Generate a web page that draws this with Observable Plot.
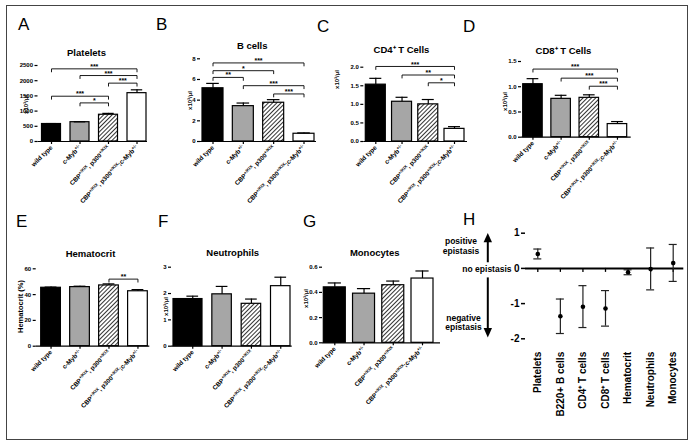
<!DOCTYPE html>
<html>
<head>
<meta charset="utf-8">
<script src="https://cdn.jsdelivr.net/npm/d3@7"></script>
<script src="https://cdn.jsdelivr.net/npm/@observablehq/plot@0.6"></script>
<style>
  body { margin: 0; background: #fff; }
  #fig { position: relative; width: 696px; height: 447px; font-family: "Liberation Sans", Arial, Helvetica, sans-serif; overflow: hidden; }
  #fig > svg { position: absolute; left: 0; top: 0; }
  .border { position: absolute; left: 6px; top: 5px; width: 682px; height: 435px; border: 1.2px solid #444; box-sizing: border-box; }
  .letter { position: absolute; font-size: 17px; line-height: 17px; color: #000; }
</style>
</head>
<body>
<div id="fig">
  <svg width="0" height="0" style="position:absolute">
    <defs>
      <pattern id="hatch" patternUnits="userSpaceOnUse" width="3" height="3" patternTransform="rotate(45)">
        <rect width="3" height="3" fill="#fff"></rect>
        <line x1="1.5" y1="0" x2="1.5" y2="3" stroke="#333" stroke-width="1"></line>
      </pattern>
    </defs>
  </svg>
  <div class="border"></div>
</div>
<script>
// ---------------- data ----------------
const genotypes = ["wild type", "c-Myb+/-", "CBP+/KIX, p300+/KIX", "CBP+/KIX, p300+/KIX;c-Myb+/-"];
const genotypeFills = ["#000000", "#a6a6a6", "url(#hatch)", "#ffffff"];

const plateletMean = [575, 635, 880, 1590];
const plateletErr = [15, 12, 45, 110];
const plateletSig = [[0, 3, 2390, "***"], [1, 3, 2170, "***"], [2, 3, 1920, "***"], [0, 2, 1490, "***"], [1, 2, 1270, "*"]];

const bCellMean = [5.15, 3.42, 3.75, 0.75];
const bCellErr = [0.47, 0.3, 0.3, 0.08];
const bCellSig = [[0, 3, 7.6, "***"], [0, 2, 6.85, "*"], [0, 1, 6.2, "**"], [1, 3, 5.4, "***"], [2, 3, 4.6, "***"]];

const cd4Mean = [1.53, 1.07, 1.0, 0.34];
const cd4Err = [0.17, 0.12, 0.13, 0.06];
const cd4Sig = [[0, 3, 2.02, "***"], [1, 3, 1.79, "**"], [2, 3, 1.58, "*"]];

const cd8Mean = [1.05, 0.76, 0.78, 0.26];
const cd8Err = [0.11, 0.07, 0.06, 0.05];
const cd8Sig = [[0, 3, 1.35, "***"], [1, 3, 1.17, "***"], [2, 3, 1.01, "***"]];

const hctMean = [45.3, 45.8, 47.1, 42.6];
const hctErr = [0.5, 0.7, 1.2, 1.3];
const hctSig = [[2, 3, 52, "**"]];

const neutroMean = [1.79, 1.97, 1.61, 2.28];
const neutroErr = [0.11, 0.3, 0.18, 0.34];

const monoMean = [0.44, 0.39, 0.457, 0.51];
const monoErr = [0.035, 0.04, 0.033, 0.06];

const epiCells = ["Platelets", "B220+ B cells", "CD4\u207A T cells", "CD8\u207A T cells", "Hematocrit", "Neutrophils", "Monocytes"];
const epiScore = [0.41, -1.36, -1.09, -1.14, -0.11, -0.02, 0.15];
const epiLow = [0.27, -1.85, -1.68, -1.64, -0.18, -0.61, -0.37];
const epiHigh = [0.55, -0.87, -0.49, -0.63, -0.04, 0.58, 0.68];
const epiArrowShafts = [{from: 0.16, to: 0.8}, {from: -0.27, to: -1.75}];
const epiArrowHeads = [{y: 0.875, dir: "up"}, {y: -1.83, dir: "down"}];
const epiNotes = [
  {text: "positive\nepistasis", y: 0.64, cx: 460.5, anchor: "middle"},
  {text: "no epistasis", y: 0, cx: 511, anchor: "end"},
  {text: "negative\nepistasis", y: -1.53, cx: 463, anchor: "middle"}
];

// ---------------- helpers ----------------
const FONT = '"Liberation Sans", Arial, Helvetica, sans-serif';
const W = 696, H = 447;
const fig = document.getElementById("fig");
const SVGNS = "http://www.w3.org/2000/svg";

function bandX(domain, x0, x1, gapL, gapR, bw) {
  const n = domain.length;
  const step = ((x1 - x0) - gapL - gapR - bw) / (n - 1);
  return {
    step,
    scale: {type: "band", domain, round: false, paddingInner: 1 - bw / step,
            paddingOuter: (gapL + gapR) / 2 / step, align: gapL / (gapL + gapR), axis: null}
  };
}

function superscriptify(svg, supSize, shift) {
  svg.querySelectorAll("text").forEach(t => {
    if (t.children.length) return;
    const s = t.textContent;
    if (!/\+\/(KIX|-)/.test(s)) return;
    const parts = s.split(/(\+\/(?:KIX|-))/).filter(p => p);
    t.textContent = "";
    let raised = false;
    for (const p of parts) {
      const ts = document.createElementNS(SVGNS, "tspan");
      if (/^\+\/(KIX|-)$/.test(p)) {
        ts.setAttribute("font-size", supSize);
        if (!raised) ts.setAttribute("dy", -shift);
        raised = true;
      } else {
        if (raised) ts.setAttribute("dy", shift);
        raised = false;
      }
      ts.textContent = p;
      t.appendChild(ts);
    }
  });
}

function place(svg) {
  fig.appendChild(svg);
}

function barPanel(p) {
  const {mean, err, sig = [], yDomain, yTicks, yFormat, frame: [x0, x1, yTop, yBot],
         gapL, gapR, bw, title, titleAt, yLabel, yLabelAt, yLabelSize = 6, firstBarWiden = 0} = p;
  const rows = genotypes.map((g, i) => ({g, i, v: mean[i], top: mean[i] + err[i], fill: genotypeFills[i]}));
  const {step, scale} = bandX(genotypes, x0, x1, gapL, gapR, bw);
  const pxPerUnit = (yBot - yTop) / (yDomain[1] - yDomain[0]);
  const hook = 3 / pxPerUnit;
  const bracketPts = sig.flatMap(([a, b, y], k) => [
    {k, g: genotypes[a], y: y - hook}, {k, g: genotypes[a], y},
    {k, g: genotypes[b], y}, {k, g: genotypes[b], y: y - hook}
  ]);
  const stars = sig.map(s => Plot.text([s], {
    x: d => genotypes[d[0]], y: d => d[2], text: d => d[3],
    dx: (s[1] - s[0]) * step / 2, dy: -2.2, fontSize: 7, fontWeight: "bold", lineAnchor: "middle"
  }));
  const cap = bw * 0.2;
  const barStyle = {x: "g", y: "v", fill: "fill", stroke: "#000", strokeWidth: 1.2};
  const bars = firstBarWiden
    ? [Plot.barY(rows.filter(d => d.i === 0), {...barStyle, insetLeft: -firstBarWiden}),
       Plot.barY(rows.filter(d => d.i !== 0), barStyle)]
    : [Plot.barY(rows, barStyle)];
  const svg = Plot.plot({
    width: W, height: H,
    marginLeft: x0, marginRight: W - x1, marginTop: yTop, marginBottom: H - yBot,
    style: {background: "transparent", fontFamily: FONT, overflow: "visible"},
    x: scale,
    y: {domain: yDomain, axis: null},
    color: {type: "identity"},
    marks: [
      ...bars,
      Plot.ruleX(rows, {x: "g", y1: "v", y2: "top", stroke: "#000", strokeWidth: 1.2}),
      Plot.tickY(rows, {x: "g", y: "top", stroke: "#000", strokeWidth: 1.2, insetLeft: cap, insetRight: cap}),
      Plot.line(bracketPts, {x: "g", y: "y", z: "k", stroke: "#000", strokeWidth: 0.9}),
      ...stars,
      Plot.ruleY([yDomain[0]], {stroke: "#000", strokeWidth: 1.2}),
      Plot.axisX({label: null, tickSize: 3, tickPadding: 2, tickRotate: -45, fontSize: 6.3, fontWeight: "bold", strokeWidth: 1.2}),
      Plot.axisY({label: null, ticks: yTicks, tickFormat: yFormat, tickSize: 3, tickPadding: 2, line: true,
                  fontSize: 6, fontWeight: "bold", strokeWidth: 1.2}),
      Plot.text([title], {text: d => d, frameAnchor: "top", dx: titleAt[0] - (x0 + x1) / 2, dy: titleAt[1] - yTop,
                          fontSize: 9.5, fontWeight: "bold", lineAnchor: "middle"}),
      Plot.text([yLabel], {text: d => d, frameAnchor: "left", rotate: -90, textAnchor: "middle", lineAnchor: "middle",
                           dx: yLabelAt[0] - x0, dy: yLabelAt[1] - (yTop + yBot) / 2,
                           fontSize: yLabelSize, fontWeight: "bold"})
    ]
  });
  superscriptify(svg, 4.4, 2.3);
  place(svg);
}

const fmtInt = d => String(d);
const fmt1 = d => d.toFixed(1);
const perUl = "x10\u00B3/\u00B5l";

barPanel({mean: plateletMean, err: plateletErr, sig: plateletSig, yDomain: [0, 2500], yTicks: [0, 500, 1000, 1500, 2000, 2500],
  yFormat: fmtInt, frame: [37.5, 147, 65, 141], gapL: 4, gapR: 1, bw: 19,
  title: "Platelets", titleAt: [86, 52], yLabel: perUl, yLabelAt: [26, 104]});

barPanel({mean: bCellMean, err: bCellErr, sig: bCellSig, yDomain: [0, 8], yTicks: [0, 2, 4, 6, 8],
  yFormat: fmtInt, frame: [200, 316, 58.3, 141], gapL: 2, gapR: 2, bw: 21,
  title: "B cells", titleAt: [251.7, 45.5], yLabel: perUl, yLabelAt: [190, 100]});

barPanel({mean: cd4Mean, err: cd4Err, sig: cd4Sig, yDomain: [0, 2], yTicks: [0, 0.5, 1, 1.5, 2],
  yFormat: fmt1, frame: [363.3, 467, 66.7, 141], gapL: 2, gapR: 3, bw: 20,
  title: "CD4\u207A T Cells", titleAt: [401, 49.5], yLabel: perUl, yLabelAt: [337, 79]});

barPanel({mean: cd8Mean, err: cd8Err, sig: cd8Sig, yDomain: [0, 1.5], yTicks: [0, 0.5, 1, 1.5],
  yFormat: fmt1, frame: [521, 630.7, 61, 136.7], gapL: 1.7, gapR: 4, bw: 19.5,
  title: "CD8\u207A T Cells", titleAt: [563, 50], yLabel: perUl, yLabelAt: [505, 101]});

barPanel({mean: hctMean, err: hctErr, sig: hctSig, yDomain: [0, 60], yTicks: [0, 20, 40, 60],
  yFormat: fmtInt, frame: [35.7, 149.3, 268.3, 345.7], gapL: 5, gapR: 2, bw: 19.7,
  title: "Hematocrit", titleAt: [90, 253.3], yLabel: "Hematocrit (%)", yLabelAt: [20.5, 306], yLabelSize: 7.5});

barPanel({mean: neutroMean, err: neutroErr, yDomain: [0, 3], yTicks: [0, 1, 2, 3],
  yFormat: fmtInt, frame: [171, 291.7, 266.7, 345.7], gapL: 11.5, gapR: 1.7, bw: 19.5, firstBarWiden: 9.5,
  title: "Neutrophils", titleAt: [232.2, 252.7], yLabel: perUl, yLabelAt: [166, 306]});

barPanel({mean: monoMean, err: monoErr, yDomain: [0, 0.6], yTicks: [0, 0.2, 0.4, 0.6],
  yFormat: fmt1, frame: [322, 440, 266.7, 342.3], gapL: 1.3, gapR: 7, bw: 22,
  title: "Monocytes", titleAt: [374.2, 252.7], yLabel: perUl, yLabelAt: [306, 298]});

// ---------------- panel H ----------------
(function epistasis() {
  const x0 = 525, x1 = 683.3, yTop = 232.7, yBot = 338.3;
  const yDomain = [-2, 1];
  const {scale} = bandX(epiCells, x0, x1, 8.3, 6.6, 8);
  const rows = epiCells.map((c, i) => ({c, v: epiScore[i], lo: epiLow[i], hi: epiHigh[i]}));
  const pxPerUnit = (yBot - yTop) / (yDomain[1] - yDomain[0]);
  const cx = (x0 + x1) / 2;
  const arrowX = 487.3;
  const tri = (dir) => ({
    draw(ctx) {
      const w = 4.2, h = 9.4, s = dir === "up" ? 1 : -1;
      ctx.moveTo(0, -s * h / 2);
      ctx.lineTo(w, s * h / 2);
      ctx.lineTo(-w, s * h / 2);
      ctx.closePath();
    }
  });
  const svg = Plot.plot({
    width: W, height: H,
    marginLeft: x0, marginRight: W - x1, marginTop: yTop, marginBottom: H - yBot,
    style: {background: "transparent", fontFamily: FONT, overflow: "visible"},
    x: scale,
    y: {domain: yDomain, axis: null},
    marks: [
      Plot.ruleY([0], {stroke: "#000", strokeWidth: 2}),
      Plot.ruleX(epiCells, {x: d => d, y1: 0, y2: -4 / pxPerUnit, stroke: "#000", strokeWidth: 1.3}),
      Plot.ruleX(rows, {x: "c", y1: "lo", y2: "hi", stroke: "#222", strokeWidth: 1.2}),
      Plot.tickY(rows, {x: "c", y: "lo", stroke: "#222", strokeWidth: 1.2}),
      Plot.tickY(rows, {x: "c", y: "hi", stroke: "#222", strokeWidth: 1.2}),
      Plot.dot(rows, {x: "c", y: "v", r: 2.3, fill: "#000"}),
      Plot.axisY({label: null, ticks: [-2, -1, 0, 1], tickFormat: d => String(d), tickSize: 4, tickPadding: 2, line: true,
                  fontSize: 10, fontWeight: "bold", strokeWidth: 1.5}),
      Plot.axisX({label: null, tickSize: 0, tickPadding: 13, tickRotate: -90, fontSize: 10, fontWeight: "bold"}),
      Plot.ruleX(epiArrowShafts, {x: null, y1: "from", y2: "to", dx: arrowX - cx, stroke: "#000", strokeWidth: 2}),
      ...epiArrowHeads.map(h => Plot.dot([h], {y: "y", symbol: tri(h.dir), r: 3, fill: "#000", stroke: "none", dx: arrowX - cx})),
      ...epiNotes.map(n => Plot.text([n], {y: "y", text: "text", textAnchor: n.anchor, lineAnchor: "middle",
                                           dx: n.cx - cx, fontSize: 8.5, fontWeight: "bold", lineHeight: 1.15}))
    ]
  });
  place(svg);
})();

// ---------------- panel letters ----------------
const letters = [["A", 18, 18], ["B", 156, 18], ["C", 317, 20], ["D", 463, 20],
                 ["E", 16, 215], ["F", 158, 215], ["G", 303, 215], ["H", 463, 213]];
for (const [t, x, y] of letters) {
  const d = document.createElement("div");
  d.className = "letter";
  d.textContent = t;
  d.style.left = x + "px";
  d.style.top = (y - 2.5) + "px";
  fig.appendChild(d);
}
</script>
</body>
</html>
